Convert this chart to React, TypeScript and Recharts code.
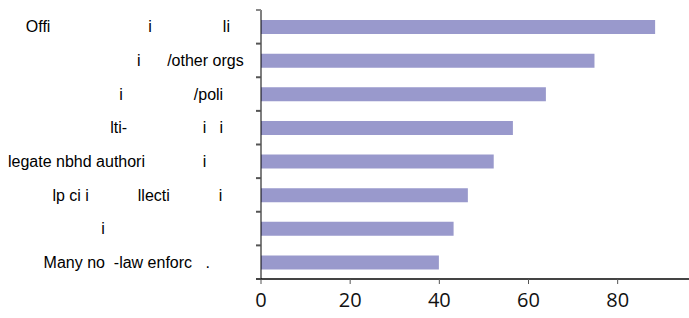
import { Bar, BarChart, XAxis, YAxis } from "recharts"

const gap = (n: number) => " ".repeat(n)

// labels as they appear in the picture (missing glyphs kept as blanks)
const labels = [
  `${gap(4)}Offi${gap(22)}i${gap(16)}li`,
  `${gap(29)}i${gap(6)}/other orgs`,
  `${gap(25)}i${gap(16)}/poli`,
  `${gap(23)}lti-${gap(17)}i${gap(3)}i`,
  `legate nbhd authori${gap(13)}i`,
  `${gap(10)}lp ci i${gap(11)}llecti${gap(11)}i`,
  `${gap(21)}i`,
  `${gap(8)}Many no${gap(2)}-law enforc${gap(3)}.`,
]
const values = [88.4, 74.8, 63.9, 56.5, 52.2, 46.4, 43.2, 39.9]
const xTicks = [0, 20, 40, 60, 80]

const data = labels.map((label, i) => ({ label, value: values[i] }))

const W = 689
const H = 318
const TOP = 10
const X_AXIS_H = 39
const Y_AXIS_W = 261
const BAND = (H - TOP - X_AXIS_H) / labels.length
const BAR_COLOR = "#9999cc"

function CategoryTick(props: any) {
  const { y, payload, index } = props
  const last = index === labels.length - 1
  return (
    <g>
      <text
        x={8}
        y={y}
        dy="0.35em"
        xmlSpace="preserve"
        style={{ whiteSpace: "pre" }}
        fontFamily="'Liberation Sans', Arial, sans-serif"
        fontSize={16}
        fill="#000"
      >
        {payload.value}
      </text>
      <line
        x1={Y_AXIS_W - 5}
        x2={Y_AXIS_W}
        y1={y - BAND / 2}
        y2={y - BAND / 2}
        stroke={index === 0 ? "#888" : "#555"}
        strokeWidth={2}
      />
      {last && (
        <line
          x1={Y_AXIS_W - 5}
          x2={Y_AXIS_W}
          y1={y + BAND / 2}
          y2={y + BAND / 2}
          stroke="#444"
          strokeWidth={2}
        />
      )}
    </g>
  )
}

export default function App() {
  return (
    <div style={{ position: "absolute", left: 0, top: 0, background: "#fff" }}>
      <BarChart
        width={W}
        height={H}
        data={data}
        layout="vertical"
        margin={{ top: TOP, right: 0, bottom: 0, left: 0 }}
        barCategoryGap={0}
      >
        <XAxis
          type="number"
          domain={[0, 96]}
          ticks={xTicks}
          height={X_AXIS_H}
          tickSize={5}
          tickMargin={9}
          axisLine={{ stroke: "#444", strokeWidth: 2 }}
          tickLine={{ stroke: "#555" }}
          tick={{ fill: "#111", fontSize: 20, fontFamily: "'Open Sans', sans-serif" }}
        />
        <XAxis
          xAxisId="top"
          orientation="top"
          type="number"
          domain={[0, 96]}
          height={0}
          tick={false}
          tickLine={false}
          axisLine={{ stroke: "#888", strokeWidth: 2 }}
        />
        <YAxis
          type="category"
          dataKey="label"
          width={Y_AXIS_W}
          tickLine={false}
          axisLine={{ stroke: "#000" }}
          tick={<CategoryTick />}
          interval={0}
        />
        <Bar dataKey="value" fill={BAR_COLOR} barSize={14} isAnimationActive={false} />
      </BarChart>
    </div>
  )
}
